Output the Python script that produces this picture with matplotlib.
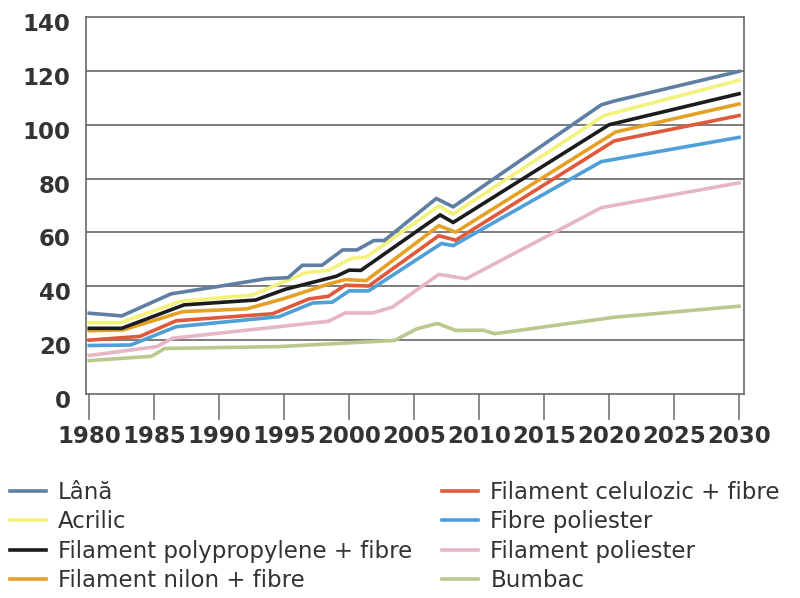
import numpy as np
import matplotlib
matplotlib.use("Agg")
from matplotlib import pyplot as plt
from matplotlib.transforms import ScaledTranslation


# Values (year, index value)
LANA_YEARS = [1980, 1982.5, 1986.3, 1990, 1993.6, 1995.3, 1996.4, 1997.9, 1999.5, 2000.6,
              2001.9, 2002.7, 2006.7, 2008.0, 2019.4, 2020.4, 2030]
LANA = [30, 29, 37.2, 40, 42.8, 43.2, 47.8, 47.8, 53.5, 53.5,
        57, 57, 72.6, 69.5, 107.4, 108.8, 119.8]

ACRILIC_YEARS = [1980, 1982.4, 1987, 1992.6, 1994.9, 1996.7, 1998.4, 2000.2, 2001.3,
                 2006.9, 2008, 2019.6, 2030]
ACRILIC = [26.5, 26.5, 34.4, 36.8, 41.5, 45.1, 45.9, 50.4, 50.8,
           69.8, 66.8, 103.4, 116.5]

POLYPROP_YEARS = [1980, 1982.5, 1987.3, 1992.8, 1995.1, 1999, 2000, 2000.9, 2007, 2008, 2020, 2030]
POLYPROP = [24.4, 24.4, 33.1, 34.9, 38.9, 43.7, 46, 45.9, 66.5, 63.7, 100, 111.5]

NILON_YEARS = [1980, 1982.6, 1987.2, 1992.1, 1994.9, 1998.4, 1999.7, 2001.3, 2006.9, 2008.2, 2020.5, 2030]
NILON = [23.5, 23.8, 30.6, 31.6, 35.3, 40.8, 42.5, 42.1, 62.5, 60.1, 97.3, 107.7]

CELULOZIC_YEARS = [1980, 1983.9, 1986.7, 1994.1, 1996.9, 1998.4, 1999.7, 2001.5, 2006.9, 2008.2, 2020.4, 2030]
CELULOZIC = [20, 21.4, 27.2, 29.8, 35.3, 36.3, 40.4, 40.1, 58.8, 57.1, 94, 103.4]

FIBRE_POL_YEARS = [1980, 1983.2, 1986.7, 1994.6, 1997.2, 1998.7, 2000, 2001.5, 2007.1, 2008, 2019.4, 2030]
FIBRE_POL = [18, 18.2, 25, 28.7, 33.8, 34.1, 38.3, 38.3, 55.9, 55.1, 86.3, 95.3]

FIL_POL_YEARS = [1980, 1985.2, 1986.4, 1998.4, 1999.7, 2001.8, 2003.3, 2006.9, 2009, 2019.4, 2030]
FIL_POL = [14.3, 17.6, 20.7, 27, 30.1, 30.1, 32.2, 44.4, 42.8, 69.2, 78.4]

BUMBAC_YEARS = [1980, 1984.8, 1985.8, 1994.6, 2003.5, 2005.2, 2006.8, 2008.2, 2010.3, 2011.2, 2020.4, 2030]
BUMBAC = [12.4, 14, 16.9, 17.6, 19.9, 24.2, 26.2, 23.6, 23.7, 22.4, 28.5, 32.6]

LABELS = [
    "Lână",
    "Acrilic",
    "Filament polypropylene + fibre",
    "Filament nilon + fibre",
    "Filament celulozic + fibre",
    "Fibre poliester",
    "Filament poliester",
    "Bumbac",
]
COLORS = ["#5e7fa3", "#f3f27c", "#1c1c1c", "#e4a126", "#df5a3c", "#4f9fd8", "#e6b5c6", "#b9c88c"]

X_TICKS = list(range(1980, 2031, 5))
Y_TICKS = list(range(0, 141, 20))


def main() -> None:
    series = [
        (LANA_YEARS, LANA),
        (ACRILIC_YEARS, ACRILIC),
        (POLYPROP_YEARS, POLYPROP),
        (NILON_YEARS, NILON),
        (CELULOZIC_YEARS, CELULOZIC),
        (FIBRE_POL_YEARS, FIBRE_POL),
        (FIL_POL_YEARS, FIL_POL),
        (BUMBAC_YEARS, BUMBAC),
    ]

    fig = plt.figure(figsize=(8, 5.98), dpi=100)
    ax = fig.add_axes([86 / 800, 1 - 394 / 598, (744 - 86) / 800, (394 - 17) / 598])

    lines = []
    n = len(series)
    for i, ((yrs, vals), label, color) in enumerate(zip(series, LABELS, COLORS)):
        ln, = ax.plot(yrs, vals, color=color, lw=2.6, label=label, zorder=3 + (n - i),
                      solid_joinstyle="miter")
        lines.append(ln)

    ax.set_xlim(1979.75, 2030.38)
    ax.set_ylim(0, 140)
    ax.set_xticks(X_TICKS)
    ax.set_yticks(Y_TICKS)

    # horizontal grid only
    for y in Y_TICKS[1:-1]:
        ax.axhline(y, color="#5a5a5a", lw=1.1, zorder=1)

    for sp in ax.spines.values():
        sp.set_color("#6a6a6a")
        sp.set_linewidth(1.2)

    ax.tick_params(axis="x", direction="out", length=19, width=1.1, color="#6a6a6a",
                   pad=3, labelsize=16.5, labelcolor="#333333")
    ax.tick_params(axis="y", length=0, pad=11, labelsize=16.5, labelcolor="#333333")
    for lbl in ax.get_xticklabels() + ax.get_yticklabels():
        lbl.set_fontweight("bold")

    # y labels sit a bit below their gridlines in the original
    offset = ScaledTranslation(0, -5 / 100, fig.dpi_scale_trans)
    for lbl in ax.get_yticklabels():
        lbl.set_transform(lbl.get_transform() + offset)

    fig.legend(handles=lines, labels=LABELS, ncol=2, loc="upper left",
               bbox_to_anchor=(10 / 800, 1 - 481 / 598), frameon=False,
               borderpad=0, borderaxespad=0, handlelength=1.55, handletextpad=0.55,
               columnspacing=1.3, labelspacing=0.28,
               prop={"family": "DejaVu Sans", "size": 16.5}, labelcolor="#333333")

    plt.savefig("out.png", dpi=100)


if __name__ == "__main__":
    main()
